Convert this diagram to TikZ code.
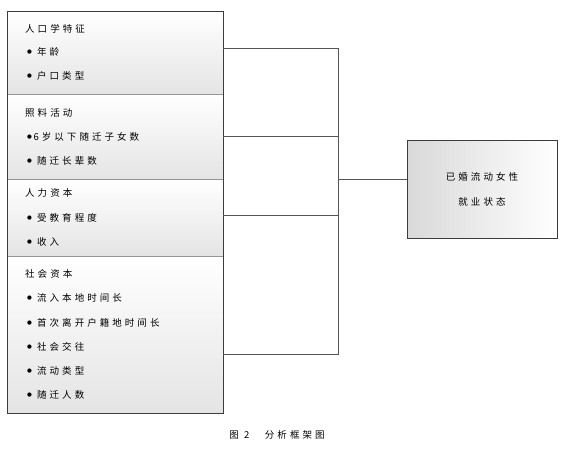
\documentclass[tikz,border=0pt]{standalone}
\usepackage{fontspec}
\usepackage{xcolor}
\usepackage{tikz}
\usetikzlibrary{positioning, shadings}
\newfontfamily\cjk[LetterSpace=32]{Noto Sans CJK SC}
\newfontfamily\symfont{DejaVu Sans}
\newcommand{\itemdot}{\raisebox{2.2pt}{\symfont\fontsize{5.5}{6}\selectfont ●}}
\definecolor{framegray}{RGB}{60, 60, 60}
\definecolor{rulegray}{RGB}{150, 150, 150}
\definecolor{linegray}{RGB}{85, 85, 85}
\definecolor{shadebg}{RGB}{228, 228, 228}

\begin{document}
\begin{tikzpicture}[x=1pt, y=1pt,
			section/.style={rectangle, draw=none, top color=white, bottom color=shadebg, inner sep=0pt, minimum width=216pt},
			label/.style={anchor=west, inner sep=0pt, font=\cjk\fontsize{9.5}{10}\selectfont, text=black},
			link/.style={draw=linegray, line width=0.7pt},
			result/.style={rectangle, draw=framegray, line width=0.9pt, left color=shadebg!95!black, right color=white, align=center, inner sep=0pt, minimum width=150pt, minimum height=98pt, font=\cjk\fontsize{9.5}{25}\selectfont}
			]
			\useasboundingbox (0,0) rectangle (564,-450);
			
			% Left panel: four shaded sections
			\node[section, minimum height=83pt, anchor=north west] (sec1) at (7,-11) {};
			\node[section, minimum height=85pt, anchor=north west] (sec2) at (7,-94) {};
			\node[section, minimum height=77pt, anchor=north west] (sec3) at (7,-179) {};
			\node[section, minimum height=157pt, anchor=north west] (sec4) at (7,-256) {};
			\draw[rulegray, line width=0.8pt] (sec1.south west) -- (sec1.south east);
			\draw[rulegray, line width=0.8pt] (sec2.south west) -- (sec2.south east);
			\draw[rulegray, line width=0.8pt] (sec3.south west) -- (sec3.south east);
			\draw[framegray, line width=0.9pt] (sec1.north west) rectangle (sec4.south east);
			
			% Section texts
			\node[label] (t1) at (25,-29) {人口学特征};
			\node[label] (t1a) at (27,-52) {\itemdot\ 年龄};
			\node[label] (t1b) at (27,-76) {\itemdot\ 户口类型};
			
			\node[label] (t2) at (25,-113) {照料活动};
			\node[label] (t2a) at (27,-137) {\itemdot\,6岁以下随迁子女数};
			\node[label] (t2b) at (27,-161) {\itemdot\ 随迁长辈数};
			
			\node[label] (t3) at (25,-193) {人力资本};
			\node[label] (t3a) at (27,-218) {\itemdot\ 受教育程度};
			\node[label] (t3b) at (27,-242) {\itemdot\ 收入};
			
			\node[label] (t4) at (25,-274) {社会资本};
			\node[label] (t4a) at (27,-298) {\itemdot\ 流入本地时间长};
			\node[label] (t4b) at (27,-323) {\itemdot\ 首次离开户籍地时间长};
			\node[label] (t4c) at (27,-347) {\itemdot\ 社会交往};
			\node[label] (t4d) at (27,-371) {\itemdot\ 流动类型};
			\node[label] (t4e) at (27,-395) {\itemdot\ 随迁人数};
			
			% Outcome
			\node[result] (out) at (482,-189) {已婚流动女性\\就业状态};
			
			% Connections
			\coordinate (p1) at (223,-48);
			\coordinate (p2) at (223,-136);
			\coordinate (p3) at (223,-215);
			\coordinate (p4) at (223,-354);
			\coordinate (hub) at (338,-179);
			\draw[link] (p1) -| (hub);
			\draw[link] (p2) -| (hub);
			\draw[link] (p3) -| (hub);
			\draw[link] (p4) -| (hub);
			\draw[link] (hub) -- (out.west |- hub);
			
			% Caption
			\node[label, anchor=center] (cap) at (277,-435) {图 2　分析框架图};
		\end{tikzpicture}
\end{document}
